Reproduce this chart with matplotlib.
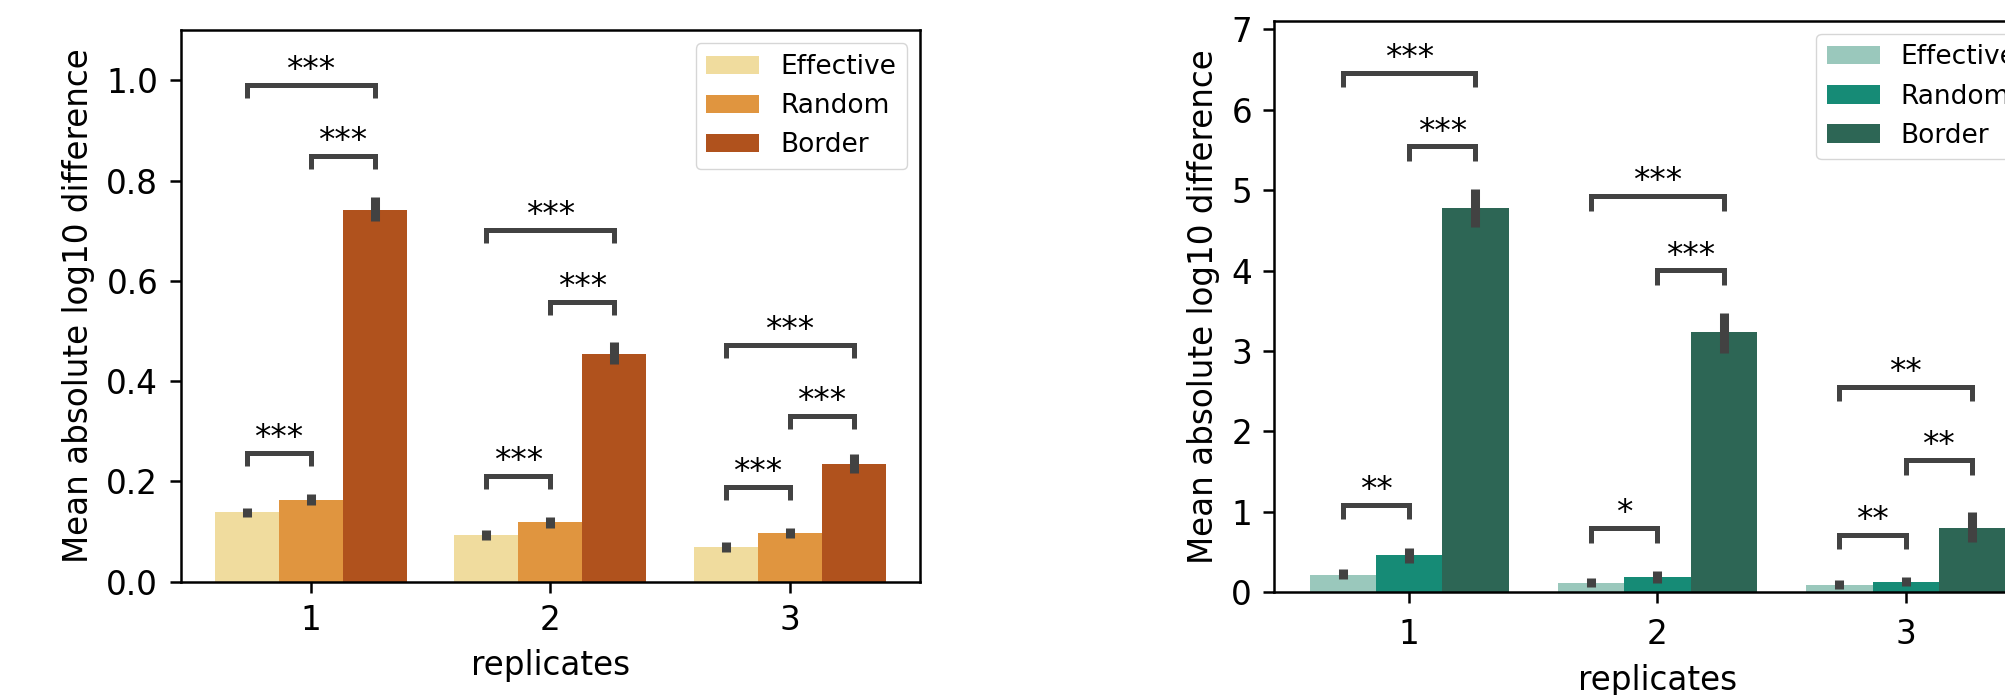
import matplotlib
matplotlib.use("Agg")
import matplotlib.pyplot as plt
import numpy as np

# ---------------- data ----------------
replicates = ["1", "2", "3"]
hues = ["Effective", "Random", "Border"]

# left panel (orange)
left_means = {
    "Effective": [0.139, 0.093, 0.069],
    "Random":    [0.163, 0.119, 0.097],
    "Border":    [0.742, 0.455, 0.235],
}
left_lo = {
    "Effective": [0.129, 0.083, 0.060],
    "Random":    [0.154, 0.108, 0.088],
    "Border":    [0.720, 0.434, 0.217],
}
left_hi = {
    "Effective": [0.148, 0.104, 0.080],
    "Random":    [0.174, 0.130, 0.108],
    "Border":    [0.767, 0.478, 0.254],
}
left_colors = ["#F0DC9E", "#E0953F", "#B0521D"]

# right panel (green)
right_means = {
    "Effective": [0.221, 0.121, 0.094],
    "Random":    [0.458, 0.188, 0.132],
    "Border":    [4.781, 3.235, 0.800],
}
right_lo = {
    "Effective": [0.160, 0.072, 0.044],
    "Random":    [0.370, 0.121, 0.077],
    "Border":    [4.543, 2.981, 0.624],
}
right_hi = {
    "Effective": [0.293, 0.177, 0.155],
    "Random":    [0.552, 0.265, 0.193],
    "Border":    [5.013, 3.478, 0.994],
}
right_colors = ["#9AC8BC", "#168B76", "#2D6655"]

# significance brackets: (replicate index, hue a, hue b, bracket top, label)
left_pairs = [
    (0, 0, 1, 0.257, "***"), (0, 1, 2, 0.849, "***"), (0, 0, 2, 0.991, "***"),
    (1, 0, 1, 0.2115, "***"), (1, 1, 2, 0.558, "***"), (1, 0, 2, 0.702, "***"),
    (2, 0, 1, 0.189, "***"), (2, 1, 2, 0.331, "***"), (2, 0, 2, 0.473, "***"),
]
right_pairs = [
    (0, 0, 1, 1.088, "**"), (0, 1, 2, 5.543, "***"), (0, 0, 2, 6.459, "***"),
    (1, 0, 1, 0.795, "*"), (1, 1, 2, 4.002, "***"), (1, 0, 2, 4.924, "***"),
    (2, 0, 1, 0.718, "**"), (2, 1, 2, 1.640, "**"), (2, 0, 2, 2.550, "**"),
]

# ---------------- style ----------------
FS = 23.5
plt.rcParams.update({
    "font.family": ["DejaVu Sans"],
    "font.size": FS,
    "axes.linewidth": 1.8,
    "xtick.major.width": 1.8,
    "ytick.major.width": 1.8,
    "xtick.major.size": 8.2,
    "ytick.major.size": 8.2,
    "xtick.major.pad": 8,
    "ytick.major.pad": 8,
})

ERR_COLOR = "#424242"
W = 2006
H = 695
fig = plt.figure(figsize=(W / 100, H / 100), dpi=100)

ax_l = fig.add_axes([180.7 / W, 1 - 581.7 / H, 739.3 / W, 551.4 / H])
ax_r = fig.add_axes([1274.5 / W, 1 - 592.3 / H, 765.9 / W, 571.6 / H])


def draw(ax, means, lo, hi, colors, pairs, ylim, yticks, leg_h,
         xlabel_pad, xtick_pad):
    n = len(hues)
    width = 0.8 / n
    x = np.arange(len(replicates))
    offs = [(-0.4 + width / 2) + k * width for k in range(n)]
    for k, h in enumerate(hues):
        ax.bar(x + offs[k], means[h], width=width, color=colors[k], label=h,
               linewidth=0, zorder=2)
        ax.vlines(x + offs[k], lo[h], hi[h], color=ERR_COLOR, lw=6.5, zorder=3)
    for (r, a, b, y, lab) in pairs:
        xa = r + offs[a]
        xb = r + offs[b]
        ax.plot([xa, xa, xb, xb], [y - leg_h, y, y, y - leg_h], color=ERR_COLOR,
                lw=3.6, solid_capstyle="butt", solid_joinstyle="miter", zorder=4)
        ax.annotate(lab, xy=((xa + xb) / 2, y), xytext=(0, -1.5),
                    textcoords="offset points", ha="center", va="bottom",
                    fontsize=FS)
    ax.set_xticks(x)
    ax.set_xticklabels(replicates)
    ax.tick_params(axis="x", pad=xtick_pad)
    ax.set_xlim(-0.5426, 2.5426)
    ax.set_ylim(*ylim)
    ax.set_yticks(yticks)
    ax.set_xlabel("replicates", labelpad=xlabel_pad)
    ax.set_ylabel("Mean absolute log10 difference", labelpad=8)
    ax.legend(loc="upper right", fontsize=19, handlelength=2.0,
              borderpad=0.4, labelspacing=0.5, framealpha=0.8)


draw(ax_l, left_means, left_lo, left_hi, left_colors, left_pairs,
     (0, 1.1), np.round(np.arange(0, 1.01, 0.2), 1), 0.0265, 8.6, 8)
ax_l.set_yticklabels([f"{v:.1f}" for v in np.arange(0, 1.01, 0.2)])
draw(ax_r, right_means, right_lo, right_hi, right_colors, right_pairs,
     (0, 7.107), np.arange(0, 8, 1), 0.177, 9.5, 10)

fig.savefig("out.png", dpi=100)
